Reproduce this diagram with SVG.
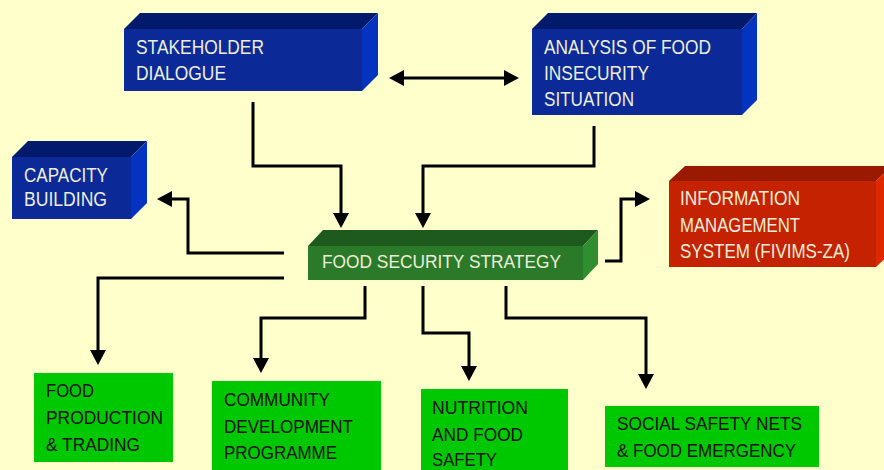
<svg xmlns="http://www.w3.org/2000/svg" width="884" height="470" viewBox="0 0 884 470">
<defs>
<style>
.bf{fill:#0B2A98}.bt{fill:#011A6B}.bs{fill:#0433C2}
.rf{fill:#C42200}.rt{fill:#991A00}.rs{fill:#E02800}
.gf{fill:#2A7A2A}.gt{fill:#1E5A1E}.gs{fill:#2F8F2F}
.lg{fill:#00C800}
text{font-family:"Liberation Sans",Arial,sans-serif;font-size:19px}
.lt{fill:#EEEED8;font-size:20px}
.dk{fill:#111111}
.c{fill:none;stroke:#000;stroke-width:3;stroke-linejoin:miter}
</style>
<marker id="ah" markerUnits="userSpaceOnUse" markerWidth="16" markerHeight="16" viewBox="0 0 15 16" refX="5" refY="8" orient="auto-start-reverse">
<path d="M0,0 L15,8 L0,16 z" fill="#000"/>
</marker>
</defs>
<rect width="884" height="470" fill="#FFFFCC"/>

<g id="stakeholder">
<polygon class="bt" points="124,29 140,13 378,13 362,29"/>
<polygon class="bs" points="362,29 378,13 378,75 362,91"/>
<rect class="bf" x="124" y="29" width="238" height="62"/>
<text class="lt" x="136" y="54" textLength="128" lengthAdjust="spacingAndGlyphs">STAKEHOLDER</text>
<text class="lt" x="136" y="80" textLength="90" lengthAdjust="spacingAndGlyphs">DIALOGUE</text>
</g>

<g id="analysis">
<polygon class="bt" points="532,29 548,13 757,13 742,29"/>
<polygon class="bs" points="742,29 757,13 757,100 742,115"/>
<rect class="bf" x="532" y="29" width="210" height="86"/>
<text class="lt" x="544" y="54" textLength="167" lengthAdjust="spacingAndGlyphs">ANALYSIS OF FOOD</text>
<text class="lt" x="544" y="80" textLength="105" lengthAdjust="spacingAndGlyphs">INSECURITY</text>
<text class="lt" x="544" y="106" textLength="90" lengthAdjust="spacingAndGlyphs">SITUATION</text>
</g>

<g id="capacity">
<polygon class="bt" points="12,157 28,141 147,141 131,157"/>
<polygon class="bs" points="131,157 147,141 147,203 131,219"/>
<rect class="bf" x="12" y="157" width="119" height="62"/>
<text class="lt" x="24" y="182" textLength="84" lengthAdjust="spacingAndGlyphs">CAPACITY</text>
<text class="lt" x="24" y="206" textLength="83" lengthAdjust="spacingAndGlyphs">BUILDING</text>
</g>

<g id="strategy">
<polygon class="gt" points="308,246 323,230 598,230 583,246"/>
<polygon class="gs" points="583,246 598,230 598,264 583,280"/>
<rect class="gf" x="308" y="246" width="275" height="34"/>
<text class="lt" x="322" y="268" style="font-size:18px" textLength="239" lengthAdjust="spacingAndGlyphs">FOOD SECURITY STRATEGY</text>
</g>

<g id="information">
<polygon class="rt" points="669,181 685,166 892,166 876,181"/>
<polygon class="rs" points="876,181 892,166 892,252 876,267"/>
<rect class="rf" x="669" y="181" width="207" height="86"/>
<text class="lt" x="680" y="205" textLength="120" lengthAdjust="spacingAndGlyphs">INFORMATION</text>
<text class="lt" x="680" y="232" textLength="120" lengthAdjust="spacingAndGlyphs">MANAGEMENT</text>
<text class="lt" x="680" y="258" textLength="170" lengthAdjust="spacingAndGlyphs">SYSTEM (FIVIMS-ZA)</text>
</g>

<g id="food-production">
<rect class="lg" x="34" y="373" width="139" height="89"/>
<text class="dk" x="46" y="397" textLength="48" lengthAdjust="spacingAndGlyphs">FOOD</text>
<text class="dk" x="46" y="424" textLength="117" lengthAdjust="spacingAndGlyphs">PRODUCTION</text>
<text class="dk" x="46" y="451" textLength="94" lengthAdjust="spacingAndGlyphs">&amp; TRADING</text>
</g>

<g id="community">
<rect class="lg" x="212" y="381" width="169" height="95"/>
<text class="dk" x="224" y="406" textLength="106" lengthAdjust="spacingAndGlyphs">COMMUNITY</text>
<text class="dk" x="224" y="433" textLength="129" lengthAdjust="spacingAndGlyphs">DEVELOPMENT</text>
<text class="dk" x="224" y="459" textLength="113" lengthAdjust="spacingAndGlyphs">PROGRAMME</text>
</g>

<g id="nutrition">
<rect class="lg" x="421" y="389" width="147" height="87"/>
<text class="dk" x="432" y="414" textLength="96" lengthAdjust="spacingAndGlyphs">NUTRITION</text>
<text class="dk" x="432" y="441" textLength="91" lengthAdjust="spacingAndGlyphs">AND FOOD</text>
<text class="dk" x="432" y="466" textLength="65" lengthAdjust="spacingAndGlyphs">SAFETY</text>
</g>

<g id="social">
<rect class="lg" x="605" y="406" width="214" height="61"/>
<text class="dk" x="617" y="430" textLength="185" lengthAdjust="spacingAndGlyphs">SOCIAL SAFETY NETS</text>
<text class="dk" x="617" y="457" textLength="179" lengthAdjust="spacingAndGlyphs">&amp; FOOD EMERGENCY</text>
</g>

<g id="connectors">
<path class="c" d="M399,78 H509" marker-start="url(#ah)" marker-end="url(#ah)"/>
<path class="c" d="M253,102 V166 H341 V218" marker-end="url(#ah)"/>
<path class="c" d="M594,126 V166 H423 V218" marker-end="url(#ah)"/>
<path class="c" d="M284,253 H188 V199 H167" marker-end="url(#ah)"/>
<path class="c" d="M284,278 H98 V355" marker-end="url(#ah)"/>
<path class="c" d="M365,286 V318 H261 V363" marker-end="url(#ah)"/>
<path class="c" d="M423,286 V333 H469 V371" marker-end="url(#ah)"/>
<path class="c" d="M506,286 V318 H646 V379" marker-end="url(#ah)"/>
<path class="c" d="M605,261 H621 V199 H640" marker-end="url(#ah)"/>
</g>
</svg>
